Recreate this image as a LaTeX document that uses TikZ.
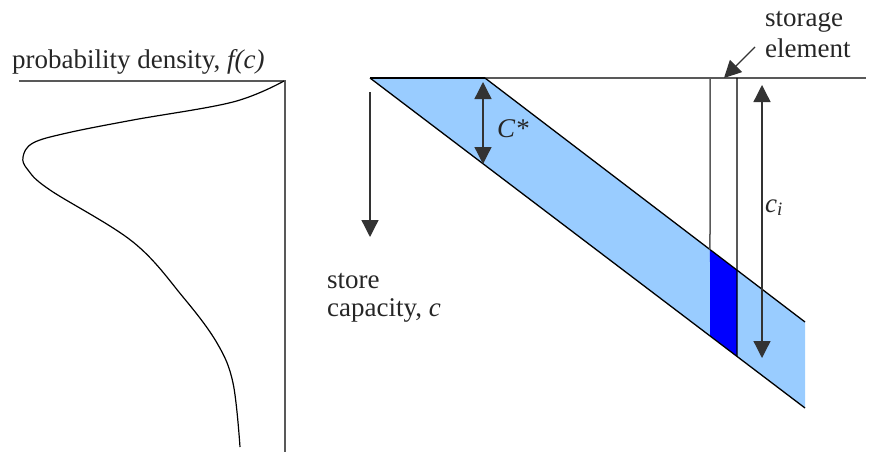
\documentclass[tikz,border=0pt]{standalone}
\usepackage{fontspec}
\setmainfont{Liberation Serif}
\usetikzlibrary{calc, arrows.meta}
\definecolor{hellblau}{RGB}{153,204,255}
\definecolor{dunkelblau}{RGB}{0,0,255}
\tikzset{
    achse/.style={line width=1.5pt, black!65},
    kante/.style={line width=1.3pt, black},
    pfeil/.style={line width=1.3pt, black!80, -{Triangle[length=17pt,width=17pt]}},
    doppelpfeil/.style={line width=1.3pt, black!80, {Triangle[length=17pt,width=17pt]}-{Triangle[length=17pt,width=17pt]}},
    schrift/.style={font=\fontsize{27}{28}\selectfont, inner sep=0pt, text=black!85},
}

\begin{document}
\begin{tikzpicture}[x=1pt, y=-1pt]
\useasboundingbox (0,0) rectangle (870,452);

% Achsen der Dichte (links)
\coordinate (L) at (19,81);
\coordinate (P) at (285,81);
\coordinate (Q) at (285,452);
\draw[achse] (L) -- (P) -- (Q);

% Dichtekurve f(c), nach unten gedreht
\draw[line width=1.2pt] plot[smooth, tension=0.6] coordinates {
    (284,81) (233,102) (133,120) (67,133) (33,143) (23,157) (28,170)
    (50,190) (133,242) (183,297) (217,343) (233,383) (240,447)};

% Beschriftung Dichte
\node[schrift, anchor=base west] (F) at (12,68) {probability density, \textit{f(c)}};

% Eckpunkte des Bandes
\coordinate (A) at (370,78);
\coordinate (B) at (485,78);
\coordinate (C) at (805,322);
\coordinate (D) at (805,408);
\coordinate (R) at (866,78);

% Speicherelement: Punkte oben und auf den Bandkanten
\coordinate (E1) at (710,78);
\coordinate (E2) at (737,78);
\coordinate (O1) at ($(B)!0.7031!(C)$);
\coordinate (O2) at ($(B)!0.7875!(C)$);
\coordinate (U1) at ($(A)!0.7816!(D)$);
\coordinate (U2) at ($(A)!0.8437!(D)$);

% Band und Speicherelement fuellen
\fill[hellblau] (A) -- (B) -- (C) -- (D) -- cycle;
\fill[dunkelblau] (O1) -- (O2) -- (U2) -- (U1) -- cycle;

% Linien
\draw[achse] (A) -- (R);
\draw[kante] (A) -- (B);
\draw[kante] (B) -- (C);
\draw[kante] (A) -- (D);
\draw[achse] (E1) -- (O1);
\draw[kante] (E2) -- (U2);

% Pfeil C*
\coordinate (K1) at (483,82);
\coordinate (K2) at (483,164);
\draw[doppelpfeil] (K1) -- (K2);
\node[schrift, anchor=base west] (Cs) at (497,137) {\textit{C*}};

% Pfeil c_i
\coordinate (I1) at (762,85);
\coordinate (I2) at (762,358);
\draw[doppelpfeil] (I1) -- (I2);
\node[schrift, anchor=base west] (Ci) at (765,212) {\textit{c}\textsubscript{\textit{i}}};

% Pfeil Speicherkapazitaet
\coordinate (S1) at (370,92);
\coordinate (S2) at (370,237);
\draw[pfeil] (S1) -- (S2);
\node[schrift, anchor=base west, align=left] (Sk) at (327,316) {store\\capacity, \textit{c}};

% Beschriftung Speicherelement
\node[schrift, anchor=base west, align=left, font=\fontsize{27}{31}\selectfont] (Se) at (765,58) {storage\\element};
\coordinate (T) at (755,47);
\coordinate (Z) at (724,78);
\draw[pfeil] (T) -- (Z);

\end{tikzpicture}
\end{document}
